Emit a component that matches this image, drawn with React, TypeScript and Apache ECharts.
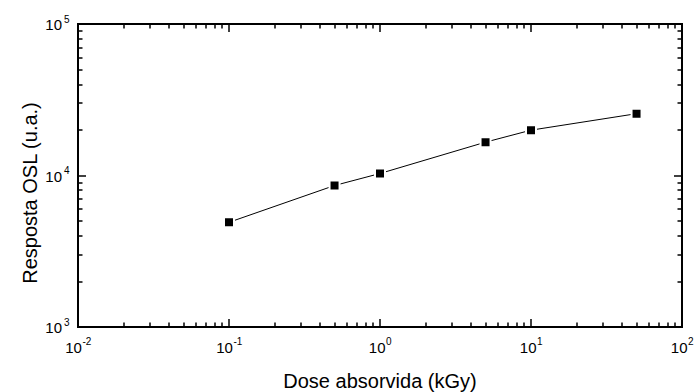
import React, { useEffect, useRef } from "react";
import * as echarts from "echarts";

const doses = [0.1, 0.5, 1, 5, 10, 50];
const response = [4910, 8590, 10310, 16600, 19920, 25590];

const X_MIN = 0.01;
const X_MAX = 100;
const Y_MIN = 1000;
const Y_MAX = 100000;
const xMajorTicks = [0.01, 0.1, 1, 10, 100];
const yMajorTicks = [1000, 10000, 100000];
const minorMultipliers = [2, 3, 4, 5, 6, 7, 8, 9];

const xTitle = "Dose absorvida (kGy)";
const yTitle = "Resposta OSL (u.a.)";

const FONT = "'Liberation Sans', Arial, Helvetica, sans-serif";

export default function App() {
  const ref = useRef<HTMLDivElement>(null);

  useEffect(() => {
    if (!ref.current) return;
    const chart = echarts.init(ref.current, null, { renderer: "svg" });

    // tick lengths expressed as ratios on the log scale (~151 px per decade)
    const PX_PER_DECADE = 151;
    const ratio = (px: number) => Math.pow(10, px / PX_PER_DECADE);
    const MAJOR = ratio(8);
    const MINOR = ratio(4.5);

    const ticks: any[] = [];
    const addX = (t: number, f: number) => {
      ticks.push([{ coord: [t, Y_MIN] }, { coord: [t, Y_MIN * f] }]);
      ticks.push([{ coord: [t, Y_MAX] }, { coord: [t, Y_MAX / f] }]);
    };
    const addY = (t: number, f: number) => {
      ticks.push([{ coord: [X_MIN, t] }, { coord: [X_MIN * f, t] }]);
      ticks.push([{ coord: [X_MAX, t] }, { coord: [X_MAX / f, t] }]);
    };
    xMajorTicks.forEach((t, i) => {
      addX(t, MAJOR);
      if (i < xMajorTicks.length - 1) minorMultipliers.forEach((m) => addX(m * t, MINOR));
    });
    yMajorTicks.forEach((t, i) => {
      addY(t, MAJOR);
      if (i < yMajorTicks.length - 1) minorMultipliers.forEach((m) => addY(m * t, MINOR));
    });

    const hiddenAxisParts = {
      axisTick: { show: false },
      splitLine: { show: false },
      axisLabel: { show: false },
      minorTick: { show: false },
    };

    chart.setOption({
      animation: false,
      grid: {
        left: 78,
        top: 24,
        right: 15,
        bottom: 65,
        show: true,
        borderColor: "#000",
        borderWidth: 2,
        backgroundColor: "#fff",
        outerBoundsMode: "none",
        containLabel: false,
      },
      xAxis: {
        type: "log",
        min: X_MIN,
        max: X_MAX,
        name: xTitle,
        nameLocation: "middle",
        nameGap: 44,
        nameTextStyle: { fontSize: 20, fontFamily: FONT, color: "#000" },
        axisLine: { show: true, lineStyle: { color: "#000", width: 2 } },
        ...hiddenAxisParts,
      },
      yAxis: {
        type: "log",
        min: Y_MIN,
        max: Y_MAX,
        name: yTitle,
        nameLocation: "middle",
        nameGap: 38,
        nameTextStyle: { fontSize: 20, fontFamily: FONT, color: "#000", padding: [0, 35, 0, 0] },
        axisLine: { show: true, lineStyle: { color: "#000", width: 2 } },
        ...hiddenAxisParts,
      },
      series: [
        {
          type: "line",
          clip: false,
          data: doses.map((d, i) => [d, response[i]]),
          symbol: "rect",
          symbolSize: 10,
          showSymbol: true,
          lineStyle: { color: "#000", width: 1 },
          itemStyle: { color: "#000", borderColor: "#fff", borderWidth: 2 },
          z: 5,
          markLine: {
            silent: true,
            animation: false,
            symbol: ["none", "none"],
            label: { show: false },
            lineStyle: { color: "#000", width: 1.5, type: "solid", opacity: 1 },
            emphasis: { disabled: true },
            data: ticks,
          },
        },
      ],
    });

    // tick labels "10" with a raised exponent, placed through the axes' own scales
    const canvas = document.createElement("canvas");
    const ctx = canvas.getContext("2d");
    const measure = (s: string, size: number) => {
      if (ctx) {
        ctx.font = `${size}px 'Liberation Sans', Arial, sans-serif`;
        return ctx.measureText(s).width;
      }
      return s.length * size * 0.55;
    };
    const baseW = measure("10", 15);
    const texts: any[] = [];
    const txt = (x: number, y: number, text: string, size: number, align: string, va: string) => ({
      type: "text",
      x,
      y,
      silent: true,
      style: { text, fontSize: size, fontFamily: FONT, fill: "#000", align, verticalAlign: va },
    });

    xMajorTicks.forEach((t) => {
      const p = chart.convertToPixel({ gridIndex: 0 }, [t, Y_MIN]) as number[];
      const e = String(Math.round(Math.log10(t)));
      const expW = measure(e, 10);
      const baseRight = p[0] + (baseW - expW) / 2;
      texts.push(txt(baseRight, p[1] + 13, "10", 15, "right", "top"));
      texts.push(txt(baseRight + 0.5, p[1] + 9.5, e, 10, "left", "top"));
    });
    yMajorTicks.forEach((t) => {
      const p = chart.convertToPixel({ gridIndex: 0 }, [X_MIN, t]) as number[];
      const e = String(Math.round(Math.log10(t)));
      texts.push(txt(p[0] - 16, p[1] + 0.5, "10", 15, "right", "middle"));
      texts.push(txt(p[0] - 14, p[1] - 10, e, 10, "left", "top"));
    });

    chart.setOption({ graphic: texts });

    return () => chart.dispose();
  }, []);

  return (
    <div
      ref={ref}
      style={{ position: "absolute", left: 0, top: 0, width: 697, height: 392, background: "#fff" }}
    />
  );
}
